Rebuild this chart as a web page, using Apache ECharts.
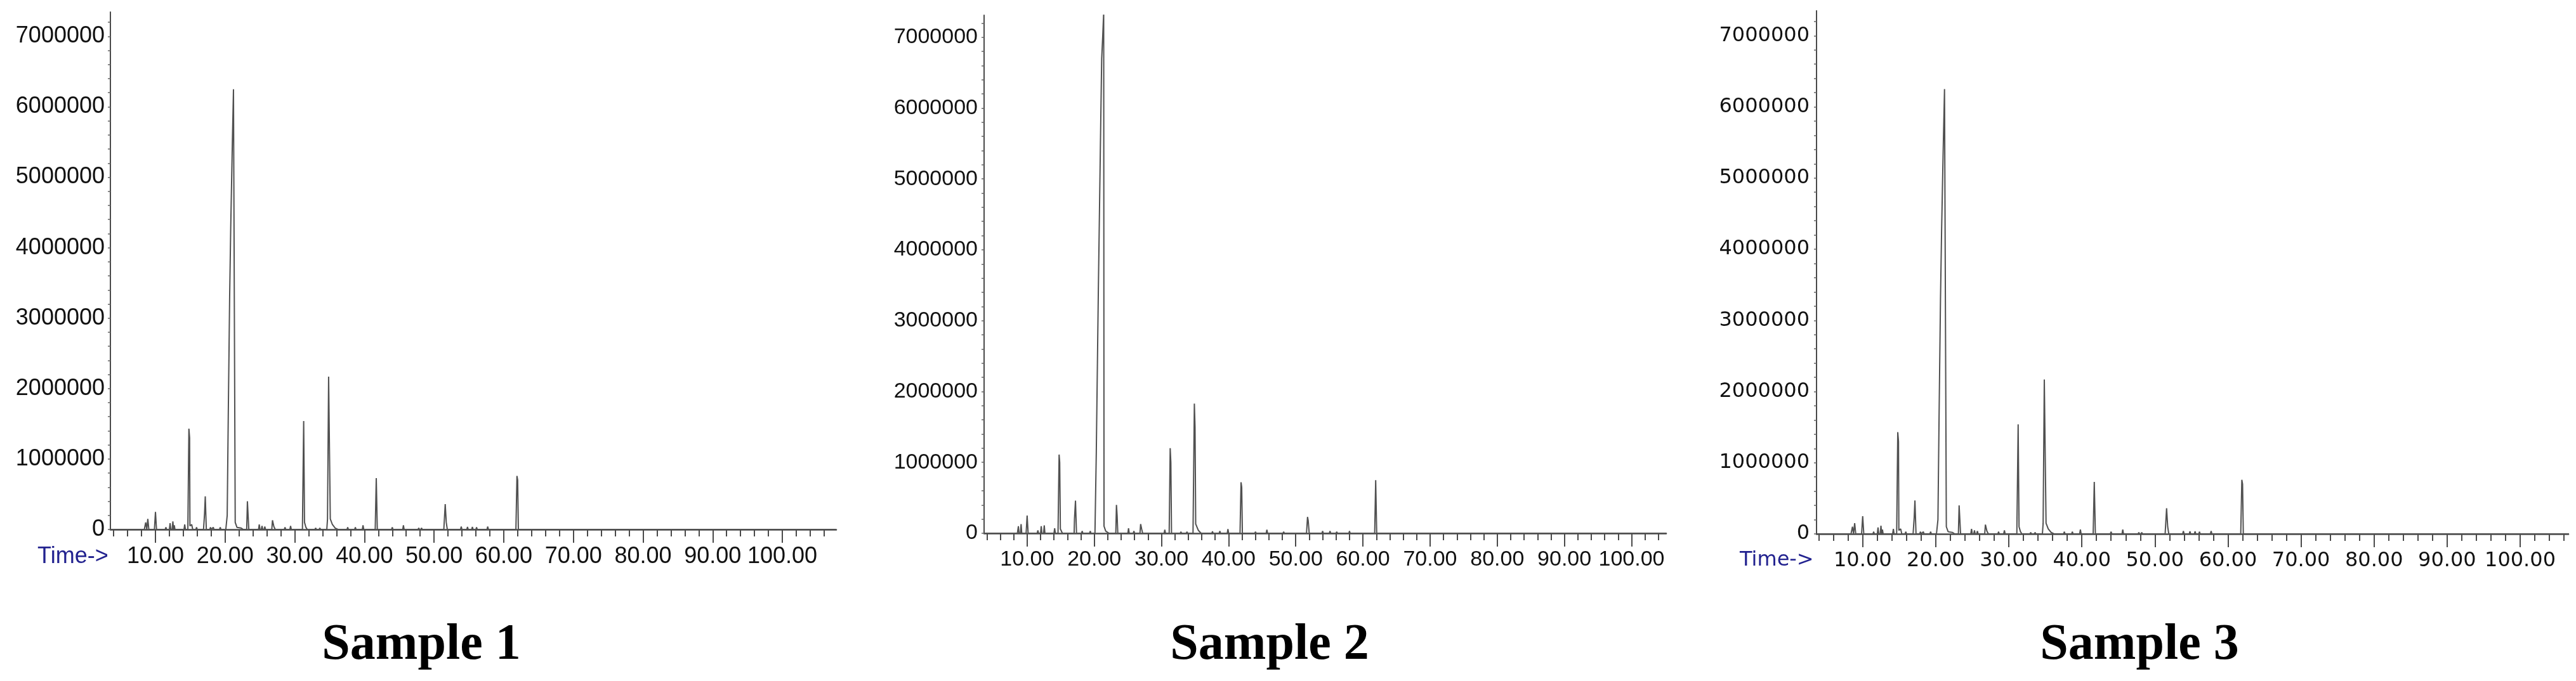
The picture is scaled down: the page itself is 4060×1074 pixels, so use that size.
<!DOCTYPE html>
<html>
<head>
<meta charset="utf-8">
<script src="https://cdn.jsdelivr.net/npm/echarts@6/dist/echarts.min.js"></script>
<style>
    html, body { margin: 0; padding: 0; background: #fff; }
    #chart-container { width: 4060px; height: 1074px; }
</style>
</head>
<body>
<div id="chart-container"></div>
<script>
// retention time (min) / abundance pairs
var sample1 = [
    [3.6, 0], [8.4, 0], [8.6, 100000], [8.75, 0], [8.9, 150000], [9.05, 0],
    [9.85, 0], [10.0, 250000], [10.15, 0],
    [11.4, 0], [11.5, 30000], [11.6, 0],
    [12.0, 0], [12.1, 90000], [12.2, 0], [12.4, 0], [12.5, 115000], [12.6, 0], [12.7, 60000], [12.8, 0],
    [14.1, 0], [14.2, 70000], [14.3, 0],
    [14.65, 0], [14.8, 1430000], [14.9, 1300000], [14.95, 50000], [15.2, 70000], [15.35, 0],
    [15.8, 0], [15.9, 30000], [16.0, 0],
    [16.9, 0], [17.05, 230000], [17.15, 470000], [17.3, 0],
    [17.8, 0], [17.9, 30000], [18.0, 0], [18.3, 30000], [18.4, 0],
    [19.2, 0], [19.3, 30000], [19.4, 0],
    [20.1, 0], [20.3, 200000], [20.45, 1600000], [20.65, 3300000], [20.8, 4250000], [21.0, 5300000],
    [21.2, 6250000], [21.35, 6250000], [21.45, 100000], [21.7, 30000], [22.3, 20000], [22.6, 0],
    [23.1, 0], [23.2, 400000], [23.3, 200000], [23.4, 0],
    [24.8, 0], [24.9, 70000], [25.0, 0], [25.2, 0], [25.3, 50000], [25.4, 0], [25.6, 0], [25.7, 40000], [25.8, 0],
    [26.7, 0], [26.8, 130000], [27.0, 40000], [27.2, 0],
    [28.5, 0], [28.6, 30000], [28.7, 0], [29.3, 0], [29.4, 50000], [29.5, 0],
    [31.1, 0], [31.28, 1540000], [31.4, 100000], [31.6, 30000], [31.8, 0],
    [32.9, 0], [33.0, 20000], [33.1, 0], [33.5, 0], [33.6, 20000], [33.7, 0],
    [34.6, 0], [34.7, 150000], [34.86, 2170000], [34.95, 1400000], [35.1, 150000], [35.4, 70000], [35.8, 20000], [36.2, 0],
    [37.5, 0], [37.6, 30000], [37.7, 0], [38.6, 0], [38.7, 30000], [38.8, 0], [39.7, 0], [39.8, 60000], [39.9, 0],
    [41.55, 0], [41.7, 730000], [41.85, 0],
    [43.9, 0], [44.0, 30000], [44.1, 0], [45.5, 0], [45.6, 60000], [45.7, 0],
    [47.7, 0], [47.8, 20000], [47.9, 0], [48.1, 0], [48.2, 20000], [48.3, 0],
    [51.4, 0], [51.6, 360000], [51.75, 100000], [51.9, 0],
    [53.8, 0], [53.9, 40000], [54.0, 0], [54.7, 0], [54.8, 35000], [54.9, 0], [55.4, 0], [55.5, 35000], [55.6, 0],
    [56.0, 0], [56.1, 30000], [56.2, 0], [57.6, 0], [57.7, 40000], [57.8, 0],
    [61.75, 0], [61.9, 760000], [62.0, 700000], [62.1, 0],
    [107.7, 0]
];

var sample2 = [
    [3.6, 0], [8.55, 0], [8.7, 100000], [8.8, 0], [9.0, 0], [9.1, 130000], [9.2, 0],
    [9.85, 0], [10.0, 250000], [10.15, 0],
    [11.5, 0], [11.6, 40000], [11.7, 0],
    [12.0, 0], [12.1, 100000], [12.2, 0], [12.45, 0], [12.55, 110000], [12.65, 0],
    [14.0, 0], [14.1, 70000], [14.2, 0],
    [14.6, 0], [14.76, 1110000], [14.85, 1000000], [14.95, 60000], [15.1, 70000], [15.25, 0],
    [17.0, 0], [17.05, 200000], [17.2, 460000], [17.35, 0],
    [18.1, 0], [18.2, 30000], [18.3, 0], [19.3, 0], [19.4, 30000], [19.5, 0],
    [20.1, 0], [20.3, 1150000], [20.6, 3400000], [20.9, 5400000], [21.1, 6700000], [21.25, 7000000],
    [21.4, 7350000], [21.45, 100000], [21.7, 30000], [22.2, 0],
    [23.2, 0], [23.3, 400000], [23.4, 250000], [23.5, 0],
    [25.0, 0], [25.1, 70000], [25.2, 0], [25.8, 0], [25.9, 30000], [26.0, 0],
    [26.8, 0], [26.9, 130000], [27.05, 60000], [27.2, 0],
    [30.4, 0], [30.5, 50000], [30.6, 0],
    [31.15, 0], [31.3, 1200000], [31.4, 1000000], [31.5, 0],
    [32.8, 0], [32.9, 20000], [33.0, 0], [33.7, 0], [33.8, 20000], [33.9, 0],
    [34.7, 0], [34.9, 1830000], [35.0, 1500000], [35.1, 130000], [35.5, 40000], [35.9, 0],
    [37.5, 0], [37.6, 25000], [37.7, 0], [38.6, 0], [38.7, 30000], [38.8, 0], [39.8, 0], [39.9, 60000], [40.0, 0],
    [41.7, 0], [41.85, 720000], [41.95, 650000], [42.05, 0],
    [43.9, 0], [44.0, 20000], [44.1, 0], [45.6, 0], [45.7, 50000], [45.8, 0], [48.1, 0], [48.2, 20000], [48.3, 0],
    [51.6, 0], [51.75, 230000], [51.85, 180000], [52.0, 0],
    [53.9, 0], [54.0, 30000], [54.1, 0], [55.0, 0], [55.1, 30000], [55.2, 0],
    [56.0, 0], [56.1, 20000], [56.2, 0], [57.9, 0], [58.0, 30000], [58.1, 0],
    [61.75, 0], [61.9, 750000], [62.05, 0],
    [105.2, 0]
];

// sample 3 is drawn with the same trace as sample 1 in the figure
var sample3 = sample1;

var sampleNames = ['Sample 1', 'Sample 2', 'Sample 3'];
var timeLabels = [10, 20, 30, 40, 50, 60, 70, 80, 90, 100];
var abundanceLabels = [0, 1000000, 2000000, 3000000, 4000000, 5000000, 6000000, 7000000];

// layout of each panel (pixels) and its axis range
var panels = [
    { data: sample1, left: 174, top: 19, width: 1144, height: 816, xMin: 3.53, xMax: 107.74, yMax: 7345000,
      font: 'Liberation Sans', size: 36, xMargin: 25, yMargin: 9, timeTag: { x: 59, y: 878 }, titleX: 664 },
    { data: sample2, left: 1551, top: 24, width: 1075, height: 817, xMin: 3.59, xMax: 105.15, yMax: 7310000,
      font: 'Liberation Sans', size: 34, xMargin: 25, yMargin: 10, timeTag: null, titleX: 2001 },
    { data: sample3, left: 2863, top: 17, width: 1185, height: 825, xMin: 3.68, xMax: 106.6, yMax: 7350000,
      font: 'DejaVu Sans', size: 32, xMargin: 27, yMargin: 11, timeTag: { x: 2742, y: 884 }, titleX: 3372 }
];

var axisColor = '#4a4a4a';

var minorTimeTicks = function (max) {
    var ticks = [];
    for (var t = 4; t <= max; t += 2) {
        if (t % 10 !== 0) ticks.push(t);
    }
    return ticks;
};

var abundanceTicks = function (max) {
    var ticks = [];
    for (var v = 0; v <= max; v += 200000) ticks.push(v);
    return ticks;
};

var option = {
    animation: false,
    backgroundColor: '#fff',
    grid: [],
    xAxis: [],
    yAxis: [],
    series: [],
    graphic: []
};

panels.forEach(function (p, i) {
    option.grid.push({ left: p.left, top: p.top, width: p.width, height: p.height, containLabel: false });

    // major time ticks with labels
    option.xAxis.push({
        type: 'value', gridIndex: i, position: 'bottom', min: p.xMin, max: p.xMax,
        axisLine: { show: true, onZero: false, lineStyle: { color: axisColor, width: 2.5 } },
        axisTick: { show: true, customValues: timeLabels, length: 21, lineStyle: { color: axisColor, width: 2 } },
        axisLabel: {
            show: true, customValues: timeLabels, margin: p.xMargin,
            fontFamily: p.font, fontSize: p.size, color: '#111',
            formatter: function (v) { return v.toFixed(2); }
        },
        splitLine: { show: false }
    });
    // minor time ticks every 2 min
    option.xAxis.push({
        type: 'value', gridIndex: i, position: 'bottom', offset: 0, min: p.xMin, max: p.xMax,
        axisLine: { show: false, onZero: false },
        axisTick: { show: true, customValues: minorTimeTicks(p.xMax), length: 11, lineStyle: { color: axisColor, width: 2 } },
        axisLabel: { show: false },
        splitLine: { show: false }
    });

    option.yAxis.push({
        type: 'value', gridIndex: i, min: 0, max: p.yMax,
        axisLine: { show: true, lineStyle: { color: axisColor, width: 2 } },
        axisTick: { show: true, customValues: abundanceTicks(p.yMax), length: 4, lineStyle: { color: '#666', width: 1.5 } },
        axisLabel: {
            show: true, customValues: abundanceLabels, margin: p.yMargin,
            fontFamily: p.font, fontSize: p.size, color: '#111',
            formatter: function (v) { return String(v); }
        },
        splitLine: { show: false }
    });

    option.series.push({
        type: 'line',
        xAxisIndex: i * 2,
        yAxisIndex: i,
        data: p.data,
        showSymbol: false,
        clip: true,
        lineStyle: { color: '#505050', width: 2 }
    });

    if (p.timeTag) {
        option.graphic.push({
            type: 'text', left: p.timeTag.x, top: p.timeTag.y - p.size / 2,
            style: { text: 'Time->', fill: '#22228f', font: p.size + 'px "' + p.font + '"' }
        });
    }

    option.graphic.push({
        type: 'text', x: p.titleX, y: 1018,
        style: {
            text: sampleNames[i], fill: '#000', align: 'center', verticalAlign: 'middle',
            font: 'bold 80px "Palatino Linotype", "Book Antiqua", "Liberation Serif", serif'
        }
    });
});

var myChart = echarts.init(document.getElementById('chart-container'));
myChart.setOption(option);
</script>
</body>
</html>
